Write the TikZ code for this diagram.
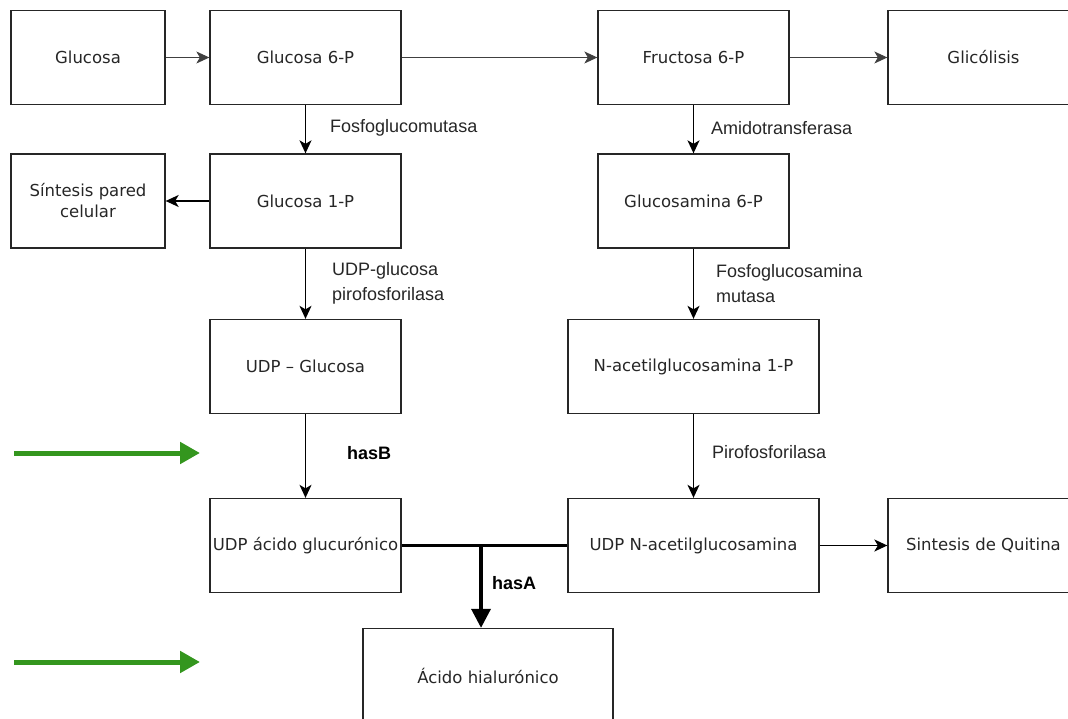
\documentclass[tikz,border=0pt]{standalone}
\usepackage{fontspec}
\setmainfont{DejaVu Sans}
\newfontfamily\labfamily{Liberation Sans}
\usetikzlibrary{arrows.meta,calc}
\definecolor{arrowgreen}{RGB}{52,150,30}
\newcommand{\boxfont}{\fontsize{16.5}{21}\selectfont}
\newcommand{\labfont}{\labfamily\fontsize{18}{25}\selectfont}
\begin{document}
\begin{tikzpicture}[x=1pt,y=-1pt,
  box/.style={draw=black!85, line width=1.3pt, minimum width=191pt, minimum height=94pt,
    inner sep=1pt, font=\boxfont, text=black!85, align=center},
  narrowbox/.style={box, minimum width=154pt},
  widebox/.style={box, minimum width=251pt},
  flow/.style={-{Stealth[length=13pt,width=12pt,inset=3.5pt]}, line width=1.5pt, draw=black},
  thinflow/.style={flow, line width=1pt, draw=black!75},
  lbl/.style={font=\labfont, anchor=west, text=black!85, align=left, inner sep=0pt},
  bold lbl/.style={lbl, font=\labfont\bfseries, text=black},
  green arrow/.style={-{Triangle[length=20pt,width=21pt]}, line width=5pt, draw=arrowgreen},
  joinline/.style={line width=3.5pt, draw=black},
  joinarrow/.style={-{Triangle[length=19pt,width=19pt]}, line width=3.5pt, draw=black}
]
\useasboundingbox (0,0) rectangle (1068,719);
\clip (0,0) rectangle (1068,719);

% top row
\node[narrowbox] (glucosa) at (88,57.5) {Glucosa};
\node[box] (g6p) at (305.5,57.5) {Glucosa 6-P};
\node[box] (f6p) at (693.5,57.5) {Fructosa 6-P};
\node[box] (glic) at (983.5,57.5) {Glicólisis};

% second row
\node[narrowbox] (pared) at (88,201) {Síntesis pared\\celular};
\node[box] (g1p) at (305.5,201) {Glucosa 1-P};
\node[box] (gn6p) at (693.5,201) {Glucosamina 6-P};

% third row
\node[box] (udpg) at (305.5,366.5) {UDP -- Glucosa};
\node[widebox] (nac1p) at (693.5,366.5) {N-acetilglucosamina 1-P};

% fourth row
\node[box] (udpgluc) at (305.5,545.5) {UDP ácido glucurónico};
\node[widebox] (udpnac) at (693.5,545.5) {UDP N-acetilglucosamina};
\node[box] (quitina) at (983.5,545.5) {Sintesis de Quitina};

% bottom
\node[box, minimum width=250pt] (hial) at (488,675.5) {Ácido hialurónico};

% connectors
\draw[thinflow] (glucosa) -- (g6p);
\draw[thinflow] (g6p) -- (f6p);
\draw[thinflow] (f6p) -- (glic);
\draw[flow] (g6p) -- (g1p);
\draw[flow] (f6p) -- (gn6p);
\draw[flow] (g1p) -- (pared);
\draw[flow] (g1p) -- (udpg);
\draw[flow] (gn6p) -- (nac1p);
\draw[flow] (udpg) -- (udpgluc);
\draw[flow] (nac1p) -- (udpnac);
\draw[flow] (udpnac) -- (quitina);

\draw[joinline] (udpgluc.east) -- (udpnac.west);
\coordinate (j) at ($(udpgluc.east)!0.479!(udpnac.west)$);
\draw[joinarrow] (j) -- (j |- hial.north);

% labels
\node[lbl] (l1) at (330,128) {Fosfoglucomutasa};
\node[lbl] (l2) at (711,128) {Amidotransferasa};
\node[lbl] (l3) at (332,283.5) {UDP-glucosa\\pirofosforilasa};
\node[lbl] (l4) at (716,283.5) {Fosfoglucosamina\\mutasa};
\node[bold lbl] (l5) at (347,453) {hasB};
\node[lbl] (l6) at (712,452) {Pirofosforilasa};
\node[bold lbl] (l7) at (492,583) {hasA};

% green arrows
\coordinate (ga1s) at (14,453);
\coordinate (ga1e) at (200,453);
\coordinate (ga2s) at (14,662);
\coordinate (ga2e) at (200,662);
\draw[green arrow] (ga1s) -- (ga1e);
\draw[green arrow] (ga2s) -- (ga2e);
\end{tikzpicture}
\end{document}
